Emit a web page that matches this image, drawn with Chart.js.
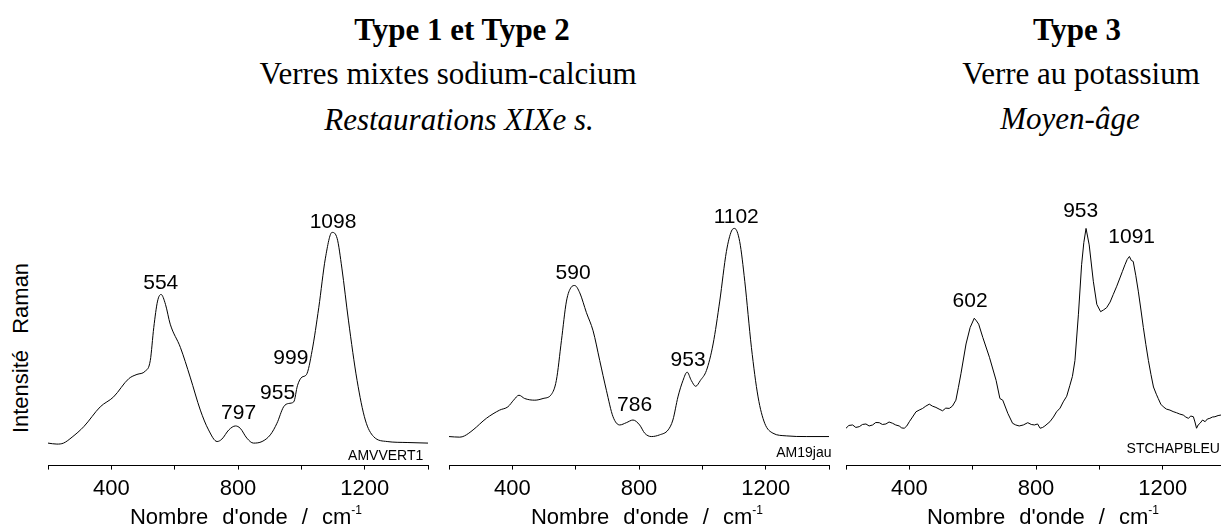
<!DOCTYPE html>
<html>
<head>
<meta charset="utf-8">
<script src="https://cdn.jsdelivr.net/npm/chart.js@4.4.0/dist/chart.umd.min.js"></script>
<style>
  html, body { margin: 0; padding: 0; background: #fff; }
  #page { position: relative; width: 1221px; height: 526px; overflow: hidden; background: #fff; }
  #page canvas { position: absolute; }
  .t { position: absolute; white-space: nowrap; font-family: "Liberation Serif", "Times New Roman", serif;
       font-size: 31px; line-height: 31px; color: #000; transform: translateX(-50%); }
  .b { font-weight: bold; }
  .i { font-style: italic; }
  .xt { position: absolute; white-space: nowrap; font-family: "Liberation Sans", Arial, sans-serif;
        font-size: 22px; line-height: 22px; color: #000; transform: translateX(-50%); word-spacing: 8px; }
  .xt span { position: relative; top: -10px; font-size: 12px; }
  .yt { position: absolute; left: 21px; top: 348px; white-space: nowrap; font-family: "Liberation Sans", Arial, sans-serif;
        font-size: 22px; line-height: 22px; color: #000; transform: translate(-50%, -50%) rotate(-90deg); word-spacing: 10px; }
</style>
</head>
<body>
<div id="page">
  <div class="t b" style="left:462px;top:14px">Type 1 et Type 2</div>
  <div class="t" style="left:448px;top:58px">Verres mixtes sodium-calcium</div>
  <div class="t i" style="left:459px;top:104px">Restaurations XIXe s.</div>
  <div class="t b" style="left:1077px;top:14px">Type 3</div>
  <div class="t" style="left:1081px;top:58px">Verre au potassium</div>
  <div class="t i" style="left:1070px;top:103px">Moyen-âge</div>

  <div class="yt">Intensité Raman</div>

  <canvas id="c1" width="400" height="320"></canvas>
  <canvas id="c2" width="400" height="320"></canvas>
  <canvas id="c3" width="400" height="320"></canvas>

  <div class="xt" style="left:246px;top:506px">Nombre d'onde / cm<span>-1</span></div>
  <div class="xt" style="left:647px;top:506px">Nombre d'onde / cm<span>-1</span></div>
  <div class="xt" style="left:1043px;top:506px">Nombre d'onde / cm<span>-1</span></div>
</div>
<script>
(function () {
  'use strict';

  // Raman spectra (wavenumber in cm-1, intensity in arbitrary units)
  const wn1 = [200, 228, 249, 276, 313, 365, 407, 455, 481, 507, 523, 534, 546, 557, 571, 586, 618, 649, 681, 707,
    734, 749, 771, 792, 807, 828, 849, 876, 902, 923, 944, 960, 976, 988, 1002, 1016, 1034, 1055, 1076, 1097,
    1113, 1128, 1149, 1176, 1202, 1228, 1271, 1334, 1400];
  const int1 = [22.7, 21.7, 22.7, 28.7, 39.3, 59.3, 69.3, 87.7, 92, 95.3, 106, 139.3, 166, 172.7, 162.7, 142.7, 119.3, 89.3, 56, 36,
    24.3, 26.7, 36, 40, 37.7, 27.7, 22.7, 24.3, 31, 42.7, 59.3, 62.7, 64.3, 81, 89.3, 91.7, 116, 159.3, 209.3, 235.3,
    229.3, 199.3, 146, 86, 46, 29.3, 24.3, 23.3, 22.7];

  const wn2 = [200, 234, 249, 276, 318, 360, 386, 404, 421, 439, 471, 497, 523, 539, 555, 571, 586, 597, 613, 634,
    655, 676, 697, 718, 739, 760, 781, 802, 818, 839, 865, 892, 907, 923, 939, 952, 965, 979, 994, 1013,
    1034, 1055, 1076, 1092, 1102, 1118, 1134, 1155, 1176, 1197, 1223, 1265, 1328, 1400];
  const int2 = [29.3, 28.7, 30, 36, 47.7, 56, 59.3, 66, 71, 67.7, 66, 67.7, 71.7, 86, 126, 166, 180, 181.7, 174.3, 154.3,
    136, 106, 76, 49.3, 41, 43.3, 46, 41, 32.7, 29.3, 31, 36, 46, 69.3, 86, 94.3, 86, 80, 86, 96,
    122.7, 166, 216, 236.7, 239.3, 226, 186, 119.3, 69.3, 42.7, 32.7, 30, 29.3, 29.3];

  const wn3 = [200, 209, 221, 231, 242, 252, 263, 273, 284, 294, 305, 315, 326, 336, 347, 357, 368, 376, 384, 392,
    400, 410, 421, 431, 442, 452, 463, 473, 484, 494, 505, 515, 526, 536, 547, 555, 563, 579, 592, 605,
    612, 619, 632, 653, 674, 686, 695, 711, 726, 736, 747, 760, 774, 785, 795, 805, 813, 821, 828, 844,
    855, 865, 876, 886, 897, 907, 915, 923, 934, 944, 951, 958, 968, 981, 992, 1004, 1013, 1023, 1034, 1044,
    1055, 1065, 1073, 1081, 1088, 1095, 1101, 1107, 1115, 1123, 1131, 1139, 1147, 1155, 1163, 1171, 1180, 1186, 1194, 1202,
    1212, 1223, 1233, 1244, 1254, 1265, 1273, 1281, 1289, 1297, 1302, 1307, 1312, 1318, 1326, 1334, 1341, 1349, 1357, 1365,
    1375, 1384, 1392, 1400];
  const int3 = [37.7, 40.5, 41, 38.5, 39.3, 41.5, 42, 40, 41, 43.5, 43.3, 41.5, 42, 44, 42.7, 41, 40, 38, 37.7, 40,
    44.3, 49, 54.3, 56, 57.7, 60, 62, 60, 58.7, 57, 55.3, 58, 57.7, 60, 66, 79, 92.7, 122.7, 139.3, 148.7,
    146, 142.7, 129.3, 109.3, 86, 67.7, 66, 52.7, 42.7, 41, 40, 41, 43.3, 41.5, 41, 42, 37.7, 38.5, 40, 44.3,
    49, 54.3, 58, 64.3, 70, 81, 90, 106, 152.7, 202.7, 225, 239.3, 222.7, 186, 162.7, 155.3, 157, 159.3, 165, 172.7,
    181, 189.3, 196, 202.7, 208, 211, 207, 206, 192, 176, 158, 139.3, 122, 106, 92, 79.3, 72, 67.7, 62, 59.3,
    57, 56, 54.5, 53.3, 52, 51, 49, 47.7, 50, 49.3, 44, 37.7, 41, 42.7, 46, 44.3, 47, 47.7, 49, 49.3,
    50.5, 51, 50, 51];

  // peak labels and where their text sits (wavenumber, intensity of the baseline)
  const peaks1 = ['554', '797', '955', '999', '1098'];
  const peakX1 = [556, 802, 925, 967, 1100];
  const peakY1 = [177.7, 46.7, 67.7, 102.7, 239.3];
  const peaks2 = ['590', '786', '953', '1102'];
  const peakX2 = [592, 786, 955, 1107];
  const peakY2 = [188.7, 55.3, 100, 244.3];
  const peaks3 = ['602', '953', '1091'];
  const peakX3 = [592, 941, 1102];
  const peakY3 = [160, 251, 224.3];

  const samples = ['AMVVERT1', 'AM19jau', 'STCHAPBLEU'];
  const xTicks = [400, 800, 1200];

  const AXIS_Y = 466;     // page y of the wavenumber axes
  const Y_SPAN = 270;     // chart area height, one intensity unit per pixel
  const SANS = '"Liberation Sans", Arial, sans-serif';

  const annotate = {
    id: 'annotate',
    afterDatasetsDraw(chart, args, o) {
      const { ctx, scales: { x, y } } = chart;
      ctx.save();
      ctx.fillStyle = '#000';
      ctx.font = `21px ${SANS}`;
      ctx.textAlign = 'center';
      ctx.textBaseline = 'alphabetic';
      o.labels.forEach((t, i) => ctx.fillText(t, x.getPixelForValue(o.lx[i]), y.getPixelForValue(o.ly[i])));
      ctx.font = `14px ${SANS}`;
      ctx.textAlign = 'right';
      ctx.fillText(o.sample, x.getPixelForValue(o.sx), y.getPixelForValue(o.sy));
      ctx.restore();
    },
  };

  function panel(id, axisLeft, wn, inten, smooth, ann) {
    const canvas = document.getElementById(id);
    const chart = new Chart(canvas, {
      type: 'line',
      data: { datasets: [{ data: wn.map((v, i) => ({ x: v, y: inten[i] })), borderColor: '#000', borderWidth: 1,
        pointRadius: 0, fill: false, tension: smooth ? 0.4 : 0,
        cubicInterpolationMode: smooth ? 'monotone' : 'default' }] },
      options: {
        responsive: false,
        animation: false,
        layout: { padding: { left: 10, right: 10, top: 10, bottom: 0 } },
        plugins: { legend: { display: false }, tooltip: { enabled: false }, annotate: ann },
        scales: {
          x: {
            type: 'linear', min: 200, max: 1400,
            border: { display: true, color: '#000', width: 1 },
            grid: { drawOnChartArea: false, drawTicks: true, tickLength: 4, color: '#000' },
            ticks: { stepSize: 200, autoSkip: false, maxRotation: 0, padding: 6, color: '#000',
              font: { family: SANS, size: 22 },
              callback: (v) => (xTicks.includes(v) ? String(v) : '') },
          },
          y: { display: false, min: 0, max: Y_SPAN },
        },
      },
      plugins: [annotate],
    });
    // fit the canvas so the plot area is Y_SPAN tall and the axis lands where the figure has it
    const dh = Y_SPAN - (chart.chartArea.bottom - chart.chartArea.top);
    if (dh) chart.resize(canvas.width, canvas.height + dh);
    canvas.style.left = (axisLeft - chart.chartArea.left) + 'px';
    canvas.style.top = (AXIS_Y - chart.chartArea.bottom) + 'px';
    return chart;
  }

  panel('c1', 47.7, wn1, int1, true, { labels: peaks1, lx: peakX1, ly: peakY1, sample: samples[0], sx: 1385, sy: 6 });
  panel('c2', 449.3, wn2, int2, true, { labels: peaks2, lx: peakX2, ly: peakY2, sample: samples[1], sx: 1408, sy: 9 });
  panel('c3', 846, wn3, int3, false, { labels: peaks3, lx: peakX3, ly: peakY3, sample: samples[2], sx: 1381, sy: 13 });
})();
</script>
</body>
</html>
